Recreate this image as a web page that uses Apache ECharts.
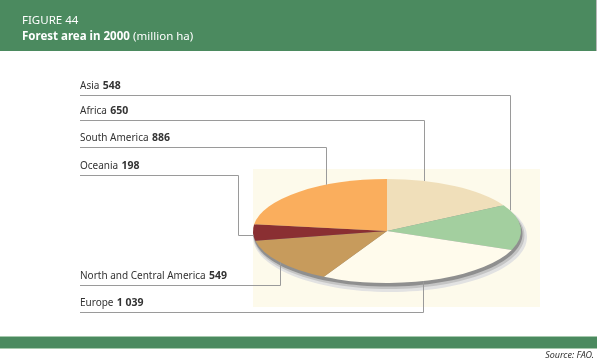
<!DOCTYPE html>
<html>
<head>
<meta charset="utf-8">
<script src="https://cdn.jsdelivr.net/npm/echarts@6/dist/echarts.min.js"></script>
<style>
html,body{margin:0;padding:0;background:#fff;}
#c{width:600px;height:360px;}
</style>
</head>
<body>
<div id="c"></div>
<script>
// Data (clockwise from 12 o'clock)
const categories = ['Africa', 'Asia', 'Europe', 'North and Central America', 'Oceania', 'South America'];
const values = [650, 548, 1039, 549, 198, 886];
const titleTop = 'FIGURE 44';
const titleMain = 'Forest area in 2000';
const titleUnit = '(million ha)';
const sourceText = 'Source: FAO.';

// Styles / layout (kept apart from data)
const sliceColors = ['#f0dfba', '#a3cf9f', '#fffbec', '#c79b5c', '#8a2f32', '#faae5d'];
// label row (underline y), anchor angle on ellipse rim (deg clockwise from top), optional elbow x
const labelRows = [120.5, 95.5, 312.5, 285.5, 175.5, 147.5];
const anchorDeg = [16, 66.6, 164.4, 233, 265.6, 333];
const elbowX = [null, null, null, null, 238.5, null];
const FONT = '"Noto Sans", "Open Sans", sans-serif';
const PIE = {cx: 387, cy: 231, a: 134, b: 52};
const LABEL_X = 80;

const total = values.reduce((s, v) => s + v, 0);
const cum = [0];
values.forEach((v, i) => cum.push(cum[i] + v));

function fmt(v) {
  if (v >= 1000) return Math.floor(v / 1000) + ' ' + String(v % 1000).padStart(3, '0');
  return String(v);
}

const chart = echarts.init(document.getElementById('c'), null, {renderer: 'canvas'});

function renderItem(params, api) {
  const i = params.dataIndex;
  const v = api.value(0);
  const {cx, cy, a, b} = PIE;
  const sy = b / a;
  const start = cum[i] / total * Math.PI * 2 - Math.PI / 2;
  const end = (cum[i] + v) / total * Math.PI * 2 - Math.PI / 2;
  const children = [];
  if (i === 0) {
    children.push({type: 'ellipse', shape: {cx: cx + 3, cy: cy + 6, rx: a + 3, ry: b + 3}, style: {fill: '#e2e2e2'}});
    children.push({type: 'ellipse', shape: {cx: cx + 2, cy: cy + 4.5, rx: a + 1.5, ry: b + 1.5}, style: {fill: '#c4c4c4'}});
    children.push({type: 'ellipse', shape: {cx: cx + 1, cy: cy + 3, rx: a + 0.5, ry: b + 0.5}, style: {fill: '#8f8f8f'}});
  }
  children.push({
    type: 'sector', x: cx, y: cy, scaleY: sy,
    shape: {cx: 0, cy: 0, r: a, r0: 0, startAngle: start, endAngle: end, clockwise: true},
    style: {fill: sliceColors[i]}
  });
  // leader line
  const th = anchorDeg[i] * Math.PI / 180;
  const ax = cx + a * Math.sin(th);
  const ay = cy - b * Math.cos(th);
  const rowY = labelRows[i];
  let pts;
  if (elbowX[i] != null) {
    const ayr = Math.round(ay) + 0.5;
    pts = [[LABEL_X, rowY], [elbowX[i], rowY], [elbowX[i], ayr], [ax, ayr]];
  } else {
    const axr = Math.round(ax) + 0.5;
    pts = [[LABEL_X, rowY], [axr, rowY], [axr, ay]];
  }
  children.push({type: 'polyline', shape: {points: pts}, style: {stroke: '#9a9a9a', lineWidth: 1, fill: null}});
  children.push({
    type: 'text', x: LABEL_X, y: rowY - 3,
    style: {
      text: '{n|' + categories[i] + '} {v|' + fmt(v) + '}',
      verticalAlign: 'bottom', align: 'left',
      rich: {
        n: {fontFamily: FONT, fontSize: 10, fill: '#333', fontWeight: 'normal'},
        v: {fontFamily: FONT, fontSize: 10.5, fill: '#333', fontWeight: 'bold'}
      }
    }
  });
  return {type: 'group', children: children};
}

const option = {
  animation: false,
  graphic: [
    {type: 'rect', shape: {x: 0, y: 0, width: 596, height: 51}, style: {fill: '#4b8a5f'}, z: 0},
    {type: 'rect', shape: {x: 596, y: 0, width: 1, height: 51}, style: {fill: '#b8b8b8'}, z: 0},
    {type: 'text', x: 22, y: 21, style: {text: titleTop, fill: '#fff', font: '11.5px ' + FONT, verticalAlign: 'middle'}, z: 1},
    {type: 'text', x: 22, y: 37, style: {
      text: '{b|' + titleMain + '} {r|' + titleUnit + '}', verticalAlign: 'middle',
      rich: {
        b: {fontFamily: FONT, fontSize: 11.5, fontWeight: 'bold', fill: '#fff'},
        r: {fontFamily: FONT, fontSize: 11.5, fill: '#fff'}
      }
    }, z: 1},
    {type: 'rect', shape: {x: 253, y: 169, width: 287, height: 138}, style: {fill: '#fdfaeb'}, z: -10},
    {type: 'rect', shape: {x: 0, y: 336, width: 597, height: 1}, style: {fill: '#a6c9ad'}, z: 0},
    {type: 'rect', shape: {x: 0, y: 337, width: 597, height: 11}, style: {fill: '#4b8a5f'}, z: 0},
    {type: 'rect', shape: {x: 0, y: 348, width: 597, height: 1}, style: {fill: '#a6c9ad'}, z: 0},
    {type: 'text', x: 594, y: 355, style: {text: sourceText, fill: '#333', font: 'italic 9px ' + FONT, align: 'right', verticalAlign: 'middle'}, z: 1}
  ],
  series: [{
    type: 'custom',
    coordinateSystem: 'none',
    renderItem: renderItem,
    data: values,
    silent: true
  }]
};
chart.setOption(option);
</script>
</body>
</html>
